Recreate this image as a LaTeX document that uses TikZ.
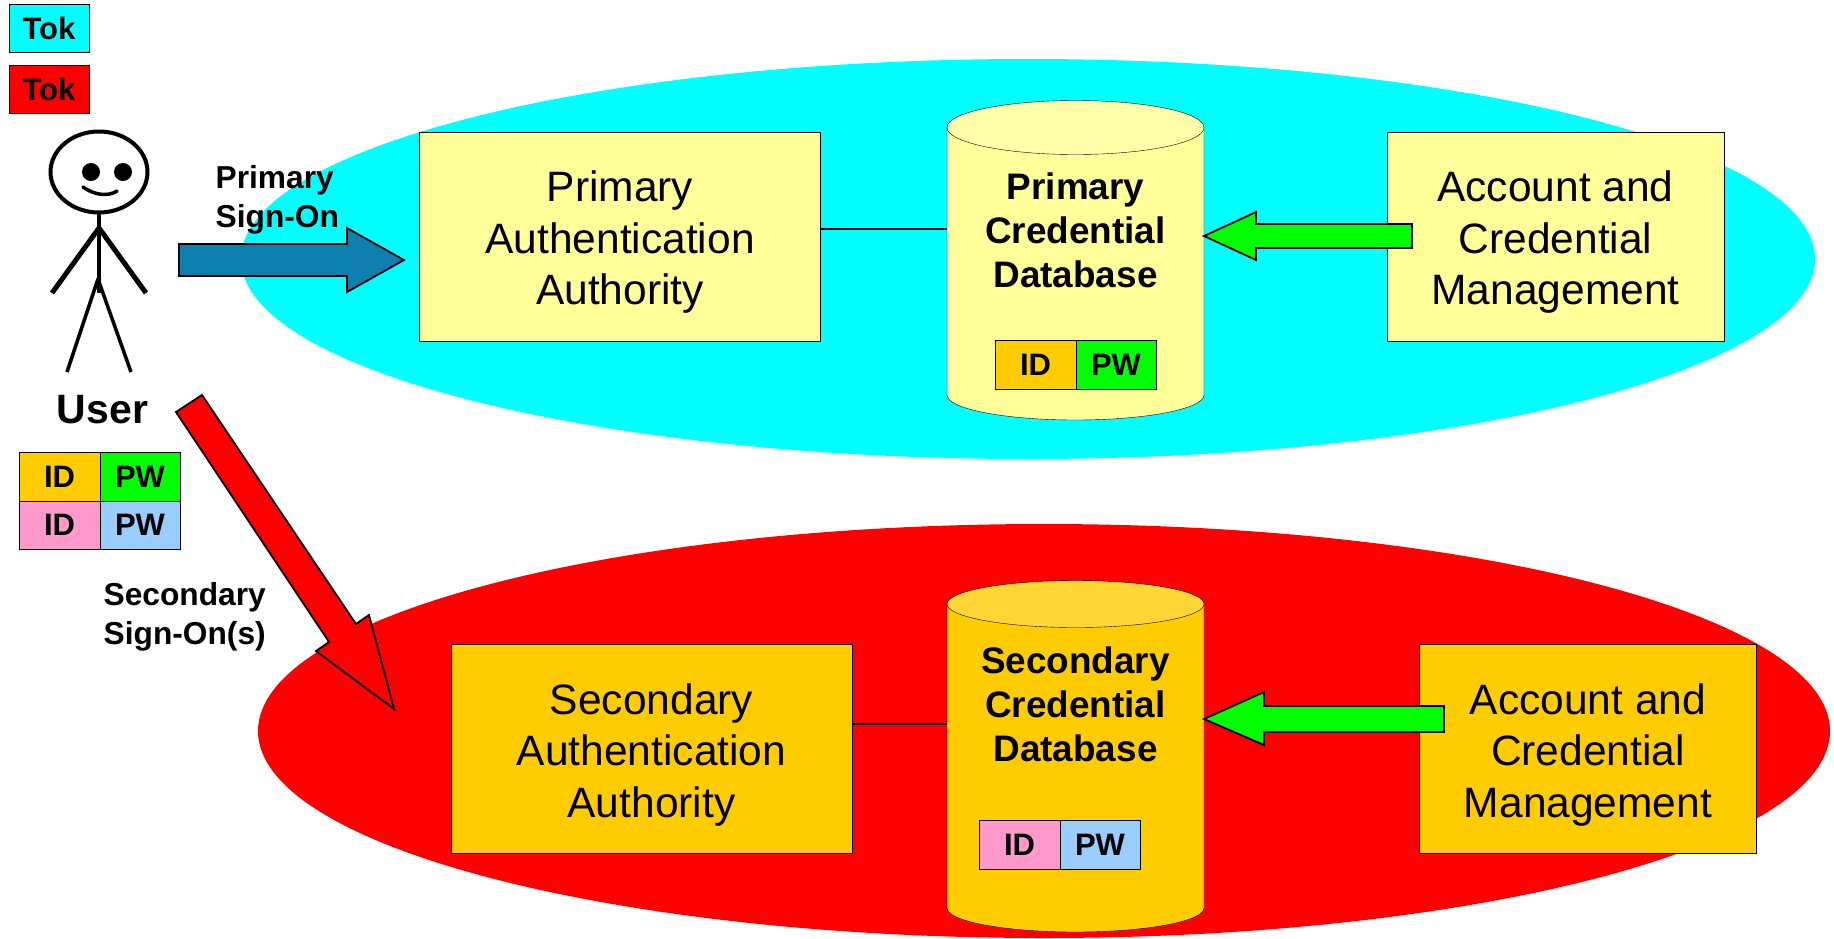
\documentclass[tikz,border=0pt]{standalone}
\usepackage{fontspec}
\setmainfont{Liberation Sans}
\usetikzlibrary{shapes.geometric,positioning}
\definecolor{cy}{HTML}{00FFFF}
\definecolor{rd}{HTML}{FF0000}
\definecolor{pale}{HTML}{FFFF99}
\definecolor{paletop}{HTML}{FFFFAA}
\definecolor{gold}{HTML}{FFCC00}
\definecolor{goldtop}{HTML}{FFD633}
\definecolor{pinkc}{HTML}{FF99CC}
\definecolor{bluec}{HTML}{99CCFF}
\definecolor{grn}{HTML}{00FF00}
\definecolor{teal}{HTML}{0D80B0}
\newcommand\celltxt[1]{\raisebox{-1pt}{#1}}
\tikzset{
  x=1pt,y=-1pt,
  line width=1.8pt,
  zone/.style={ellipse,fill=#1,draw=none,inner sep=0pt,outer sep=0pt},
  authbox/.style={rectangle,draw=black,fill=#1,minimum width=401pt,minimum height=209pt,inner sep=0pt,outer sep=0pt},
  acmbox/.style={authbox=#1,minimum width=337pt},
  boxtext/.style={align=center,inner sep=0pt,font=\fontsize{42.5}{51.5}\selectfont},
  cell/.style={rectangle,draw=black,fill=#1,minimum width=80.5pt,minimum height=48.5pt,inner sep=0pt,outer sep=0pt,font=\fontsize{31}{37}\bfseries\selectfont},
  tok/.style={rectangle,draw=black,fill=#1,minimum width=80pt,minimum height=48pt,inner sep=0pt,outer sep=0pt,font=\fontsize{31}{37}\bfseries\selectfont},
  dbtext/.style={align=center,inner sep=0pt,font=\fontsize{36.9}{44}\bfseries\selectfont},
  lbl/.style={align=left,inner sep=0pt,font=\fontsize{31.7}{39.3}\bfseries\selectfont},
  frame/.style={rectangle,draw=none,fill=none,inner sep=0pt,outer sep=0pt,minimum width=257pt},
  blockarrow/.style={draw=black,line width=1.8pt,line join=miter,fill=#1},
  limb/.style={draw=black,line cap=butt,line join=round},
  link/.style={draw=black,line width=1.8pt},
}
\begin{document}
\begin{tikzpicture}
\useasboundingbox (0,0) rectangle (1834,938);
% zones
\node[zone=cy,minimum width=1574pt,minimum height=400pt] (zonep) at (1028,259) {};
\node[zone=rd,minimum width=1572pt,minimum height=414pt] (zones) at (1044,731) {};
% cylinder frames
\node[frame,minimum height=320pt] (pdb) at (1075.5,260) {};
\node[frame,minimum height=351pt] (sdb) at (1075.5,756.5) {};
% connectors between authority and database
\coordinate (lnkp) at (pdb.west |- 0,229);
\coordinate (lnks) at (sdb.west |- 0,724);
% boxes
\node[authbox=pale] (paa) at (620,236.5) {};
\node[boxtext] (paat) at (620,242.5) {Primary\\Authentication\\Authority};
\node[authbox=gold] (saa) at (651.5,748.5) {};
\node[boxtext] (saat) at (651.5,754.5) {Secondary\\Authentication\\Authority};
\node[acmbox=pale] (acmp) at (1555.5,236.5) {};
\node[boxtext] (acmpt) at (1555.5,242.5) {Account and\\Credential\\Management};
\node[acmbox=gold] (acms) at (1588,748.5) {};
\node[boxtext] (acmst) at (1588,754.5) {Account and\\Credential\\Management};
\draw[link] (paa.east |- lnkp) -- (lnkp);
\draw[link] (saa.east |- lnks) -- (lnks);
% primary cylinder
\draw[fill=pale] (947,127.5) -- (947,395) arc[start angle=180,end angle=0,x radius=128.5,y radius=25] -- (1204,127.5) -- cycle;
\draw[fill=paletop] (1075.5,127.5) ellipse[x radius=128.5,y radius=27];
\node[dbtext] (pdbt) at (1075.5,230) {Primary\\Credential\\Database};
% secondary cylinder
\draw[fill=gold] (947,604) -- (947,908) arc[start angle=180,end angle=0,x radius=128.5,y radius=24] -- (1204,604) -- cycle;
\draw[fill=goldtop] (1075.5,604) ellipse[x radius=128.5,y radius=23.5];
\node[dbtext] (sdbt) at (1075.5,704) {Secondary\\Credential\\Database};
% cells
\node[cell=gold] (pid) at (1035.5,364.5) {\celltxt{ID}};
\node[cell=grn] (ppw) at (1116,364.5) {\celltxt{PW}};
\node[cell=pinkc] (sid) at (1019.5,844.5) {\celltxt{ID}};
\node[cell=bluec] (spw) at (1100,844.5) {\celltxt{PW}};
\node[cell=gold] (uid1) at (59.5,476.5) {\celltxt{ID}};
\node[cell=grn] (upw1) at (140,476.5) {\celltxt{PW}};
\node[cell=pinkc] (uid2) at (59.5,525) {\celltxt{ID}};
\node[cell=bluec] (upw2) at (140,525) {\celltxt{PW}};
% tokens
\node[tok=cy] (tok1) at (49,28) {\celltxt{Tok}};
\node[tok=rd] (tok2) at (49,89) {\celltxt{Tok}};
% user figure
\draw[line width=4pt,fill=white] (99,172) ellipse[x radius=48.5,y radius=40.5];
\fill (91,172) circle[radius=9];
\fill (123,172) circle[radius=9];
\draw[line width=3.5pt,line cap=round] (83,187) .. controls (94,195) and (108,197) .. (117,191);
\draw[limb,line width=3.5pt] (99,213) -- (99,293);
\draw[limb,line width=5pt] (52,293) -- (99,228) -- (146,293);
\draw[limb,line width=3.5pt] (67,372) -- (98,279) -- (131,372);
\node[inner sep=0pt,font=\fontsize{41}{49}\bfseries\selectfont] (user) at (102.5,410) {User};
% labels
\node[lbl,anchor=west] (lblp) at (215.5,200) {Primary\\Sign-On};
\node[lbl,anchor=west] (lbls) at (103.5,617) {Secondary\\Sign-On(s)};
% block arrows
\coordinate (bluetip) at (404,260);
\draw[blockarrow=teal] (bluetip) -- ++(-57,-32) -- ++(0,16) -- (179,244) -- (179,276) -- (347,276) -- (347,292) -- cycle;
\coordinate (redtip) at (394,709);
\draw[blockarrow=rd] (redtip) -- (369,615) -- (356,624) -- (202,395) -- (176,412) -- (329,642) -- (316,651) -- cycle;
\coordinate (gp) at (pdb.east |- 0,236);
\draw[blockarrow=grn] (gp) -- ++(52,-24) -- ++(0,12) -- (1412,224) -- (1412,248) -- (1256,248) -- (1256,260) -- cycle;
\coordinate (gs) at (sdb.east |- 0,719);
\draw[blockarrow=grn] (gs) -- ++(60,-27) -- ++(0,14) -- (1444,706) -- (1444,732) -- (1264,732) -- (1264,745) -- cycle;
\end{tikzpicture}
\end{document}
